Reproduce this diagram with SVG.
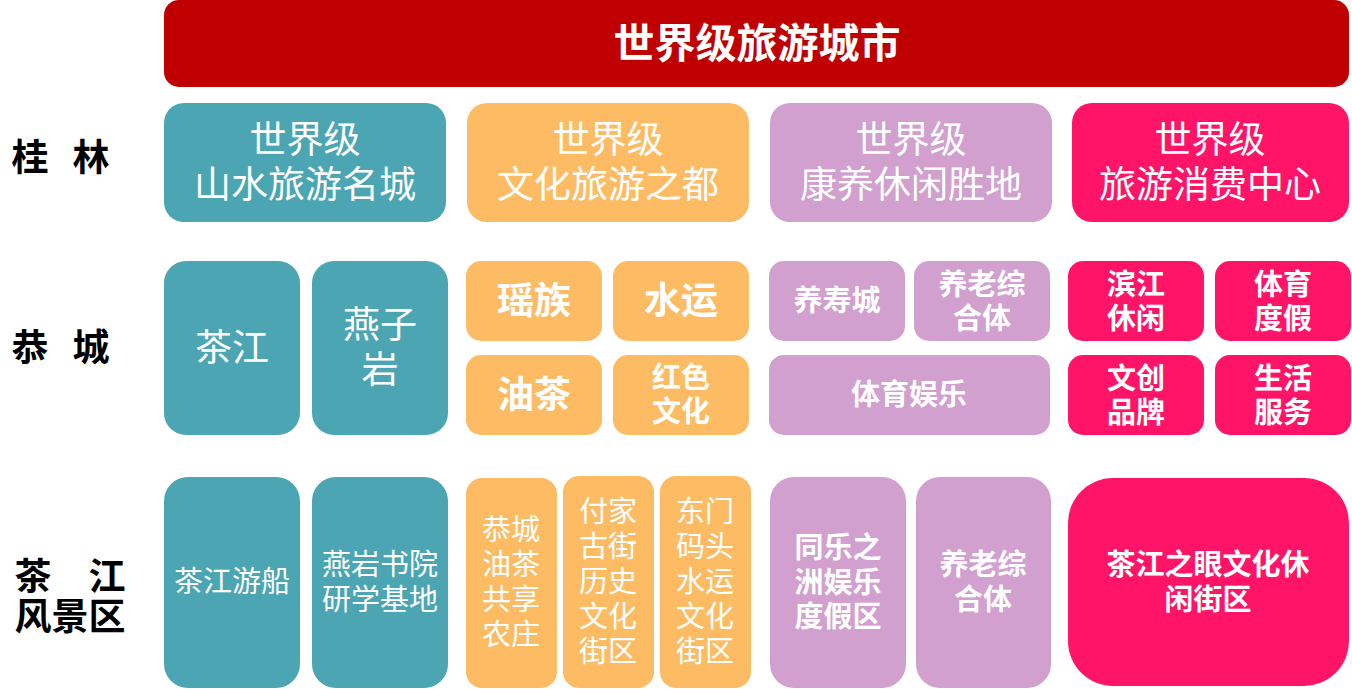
<svg xmlns="http://www.w3.org/2000/svg" width="1352" height="689" viewBox="0 0 1352 689">
<style>
text{font-family:"Noto Sans CJK SC","Noto Sans",sans-serif;fill:#fff;text-anchor:middle;dominant-baseline:central}
.lbl{fill:#000;font-weight:bold;font-size:37px}
.r{font-size:37px}
.m{font-size:29px}
.b{font-weight:bold}
.teal{fill:#4BA5B3}.org{fill:#FDBC64}.pur{fill:#D1A0CF}.pink{fill:#FF1467}
</style>
<rect width="1352" height="689" fill="#fff"/>
<g id="labels">
<text class="lbl" x="30" y="155">桂</text><text class="lbl" x="91" y="155">林</text>
<text class="lbl" x="30" y="345">恭</text><text class="lbl" x="91" y="345">城</text>
<text class="lbl" x="33" y="574">茶</text><text class="lbl" x="107" y="574">江</text>
<text class="lbl" x="70" y="614">风景区</text>
</g>
<g id="title"><rect x="164" y="0" width="1185" height="87" rx="15" fill="#C00000"/><text class="b" x="757" y="40" font-size="41">世界级旅游城市</text></g>
<g id="r1a"><rect class="teal" x="164" y="103" width="282" height="119" rx="20"/><text class="r" x="305" y="137">世界级</text><text class="r" x="305" y="182">山水旅游名城</text></g>
<g id="r1b"><rect class="org" x="467" y="103" width="282" height="119" rx="20"/><text class="r" x="608" y="137">世界级</text><text class="r" x="608" y="182">文化旅游之都</text></g>
<g id="r1c"><rect class="pur" x="770" y="103" width="282" height="119" rx="20"/><text class="r" x="911" y="137">世界级</text><text class="r" x="911" y="182">康养休闲胜地</text></g>
<g id="r1d"><rect class="pink" x="1072" y="103" width="277" height="119" rx="20"/><text class="r" x="1210" y="137">世界级</text><text class="r" x="1210" y="182">旅游消费中心</text></g>

<g id="chajiang"><rect class="teal" x="164" y="261" width="136" height="174" rx="22"/><text class="r" x="232" y="345">茶江</text></g>
<g id="yanziyan"><rect class="teal" x="312" y="261" width="136" height="174" rx="22"/><text class="r" x="380" y="322">燕子</text><text class="r" x="380" y="367">岩</text></g>
<g id="yaozu"><rect class="org" x="466" y="261" width="136" height="80" rx="15"/><text class="r b" x="534" y="298">瑶族</text></g>
<g id="shuiyun"><rect class="org" x="613" y="261" width="136" height="80" rx="15"/><text class="r b" x="681" y="298">水运</text></g>
<g id="youcha"><rect class="org" x="466" y="355" width="136" height="80" rx="15"/><text class="r b" x="534" y="392">油茶</text></g>
<g id="hongse"><rect class="org" x="613" y="355" width="136" height="80" rx="15"/><text class="m b" x="681" y="375">红色</text><text class="m b" x="681" y="409">文化</text></g>
<g id="yangshou"><rect class="pur" x="769" y="261" width="136" height="80" rx="15"/><text class="m b" x="837" y="298">养寿城</text></g>
<g id="yanglao1"><rect class="pur" x="914" y="261" width="136" height="80" rx="15"/><text class="m b" x="982" y="282">养老综</text><text class="m b" x="982" y="316">合体</text></g>
<g id="tiyu"><rect class="pur" x="769" y="355" width="281" height="80" rx="15"/><text class="m b" x="909" y="392">体育娱乐</text></g>
<g id="binjiang"><rect class="pink" x="1068" y="261" width="136" height="80" rx="15"/><text class="m b" x="1136" y="282">滨江</text><text class="m b" x="1136" y="316">休闲</text></g>
<g id="tiyudujia"><rect class="pink" x="1215" y="261" width="136" height="80" rx="15"/><text class="m b" x="1283" y="282">体育</text><text class="m b" x="1283" y="316">度假</text></g>
<g id="wenchuang"><rect class="pink" x="1068" y="355" width="136" height="80" rx="15"/><text class="m b" x="1136" y="376">文创</text><text class="m b" x="1136" y="410">品牌</text></g>
<g id="shenghuo"><rect class="pink" x="1215" y="355" width="136" height="80" rx="15"/><text class="m b" x="1283" y="376">生活</text><text class="m b" x="1283" y="410">服务</text></g>

<g id="youchuan"><rect class="teal" x="164" y="477" width="136" height="211" rx="24"/><text class="m" x="232" y="579">茶江游船</text></g>
<g id="shuyuan"><rect class="teal" x="312" y="477" width="136" height="211" rx="24"/><text class="m" x="380" y="562">燕岩书院</text><text class="m" x="380" y="597">研学基地</text></g>
<g id="nongzhuang"><rect class="org" x="466" y="478" width="91" height="210" rx="16"/><text class="m" x="511" y="527">恭城</text><text class="m" x="511" y="562">油茶</text><text class="m" x="511" y="597">共享</text><text class="m" x="511" y="632">农庄</text></g>
<g id="fujia"><rect class="org" x="563" y="476" width="91" height="212" rx="16"/><text class="m" x="608" y="509">付家</text><text class="m" x="608" y="544">古街</text><text class="m" x="608" y="579">历史</text><text class="m" x="608" y="614">文化</text><text class="m" x="608" y="649">街区</text></g>
<g id="dongmen"><rect class="org" x="660" y="476" width="91" height="212" rx="16"/><text class="m" x="705" y="509">东门</text><text class="m" x="705" y="544">码头</text><text class="m" x="705" y="579">水运</text><text class="m" x="705" y="614">文化</text><text class="m" x="705" y="649">街区</text></g>
<g id="tongle"><rect class="pur" x="770" y="477" width="136" height="211" rx="24"/><text class="m b" x="838" y="545">同乐之</text><text class="m b" x="838" y="580">洲娱乐</text><text class="m b" x="838" y="614">度假区</text></g>
<g id="yanglao2"><rect class="pur" x="916" y="477" width="135" height="211" rx="24"/><text class="m b" x="983" y="562">养老综</text><text class="m b" x="983" y="597">合体</text></g>
<g id="chajiangzhiyan"><rect class="pink" x="1068" y="478" width="281" height="208" rx="45"/><text class="m b" x="1208" y="562">茶江之眼文化休</text><text class="m b" x="1208" y="597">闲街区</text></g>
<g id="connectors"></g>
</svg>
